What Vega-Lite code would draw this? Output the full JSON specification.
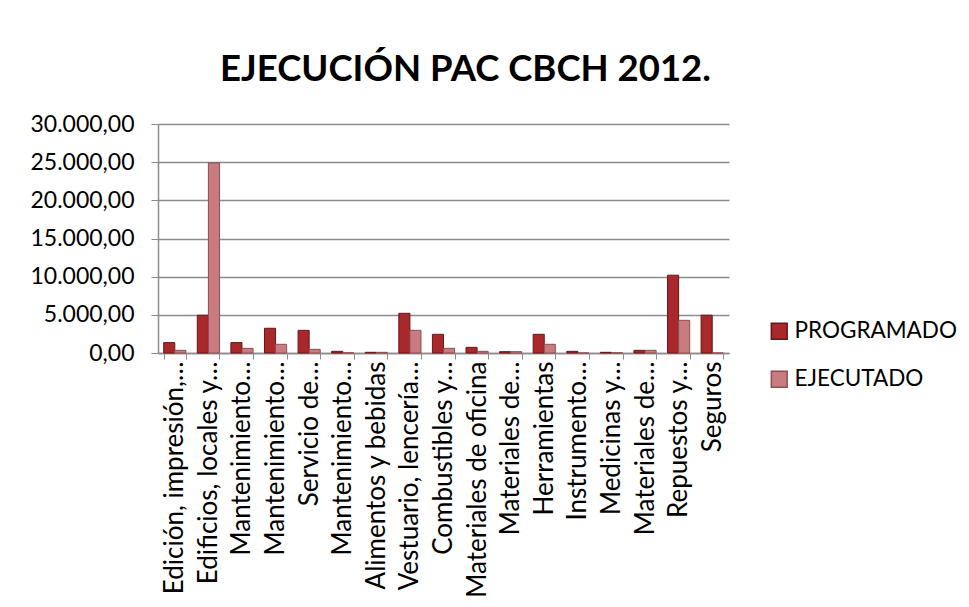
{
  "$schema": "https://vega.github.io/schema/vega-lite/v6.json",
  "autosize": {"type": "none"},
  "width": 571,
  "height": 229,
  "padding": {"left": 158, "top": 124, "right": 240, "bottom": 254},
  "background": "white",
  "config": {
    "locale": {"number": {"decimal": ",", "thousands": ".", "grouping": [3], "currency": ["$", ""]}},
    "font": "Lato",
    "view": {"stroke": null}
  },
  "title": {
    "text": "EJECUCIÓN PAC CBCH 2012.",
    "font": "Lato",
    "fontSize": 36.5,
    "fontWeight": "bold",
    "color": "#000000",
    "anchor": "middle",
    "dx": 22,
    "offset": 25
  },
  "data": {
    "values": [
      {"cat": "01|Edición, impresión,…", "serie": "PROGRAMADO", "valor": 1360},
      {"cat": "01|Edición, impresión,…", "serie": "EJECUTADO", "valor": 350},
      {"cat": "02|Edificios, locales y…", "serie": "PROGRAMADO", "valor": 4950},
      {"cat": "02|Edificios, locales y…", "serie": "EJECUTADO", "valor": 24900},
      {"cat": "03|Mantenimiento…", "serie": "PROGRAMADO", "valor": 1360},
      {"cat": "03|Mantenimiento…", "serie": "EJECUTADO", "valor": 610},
      {"cat": "04|Mantenimiento…", "serie": "PROGRAMADO", "valor": 3240},
      {"cat": "04|Mantenimiento…", "serie": "EJECUTADO", "valor": 1140},
      {"cat": "05|Servicio de…", "serie": "PROGRAMADO", "valor": 2970},
      {"cat": "05|Servicio de…", "serie": "EJECUTADO", "valor": 480},
      {"cat": "06|Mantenimiento…", "serie": "PROGRAMADO", "valor": 220},
      {"cat": "06|Mantenimiento…", "serie": "EJECUTADO", "valor": 20},
      {"cat": "07|Alimentos y bebidas", "serie": "PROGRAMADO", "valor": 90},
      {"cat": "07|Alimentos y bebidas", "serie": "EJECUTADO", "valor": 90},
      {"cat": "08|Vestuario, lencería…", "serie": "PROGRAMADO", "valor": 5200},
      {"cat": "08|Vestuario, lencería…", "serie": "EJECUTADO", "valor": 2970},
      {"cat": "09|Combustibles y…", "serie": "PROGRAMADO", "valor": 2450},
      {"cat": "09|Combustibles y…", "serie": "EJECUTADO", "valor": 610},
      {"cat": "10|Materiales de oficina", "serie": "PROGRAMADO", "valor": 740},
      {"cat": "10|Materiales de oficina", "serie": "EJECUTADO", "valor": 220},
      {"cat": "11|Materiales de…", "serie": "PROGRAMADO", "valor": 175},
      {"cat": "11|Materiales de…", "serie": "EJECUTADO", "valor": 175},
      {"cat": "12|Herramientas", "serie": "PROGRAMADO", "valor": 2450},
      {"cat": "12|Herramientas", "serie": "EJECUTADO", "valor": 1140},
      {"cat": "13|Instrumento…", "serie": "PROGRAMADO", "valor": 220},
      {"cat": "13|Instrumento…", "serie": "EJECUTADO", "valor": 0},
      {"cat": "14|Medicinas y…", "serie": "PROGRAMADO", "valor": 90},
      {"cat": "14|Medicinas y…", "serie": "EJECUTADO", "valor": 30},
      {"cat": "15|Materiales de…", "serie": "PROGRAMADO", "valor": 350},
      {"cat": "15|Materiales de…", "serie": "EJECUTADO", "valor": 350},
      {"cat": "16|Repuestos y…", "serie": "PROGRAMADO", "valor": 10190},
      {"cat": "16|Repuestos y…", "serie": "EJECUTADO", "valor": 4280},
      {"cat": "17|Seguros", "serie": "PROGRAMADO", "valor": 4950},
      {"cat": "17|Seguros", "serie": "EJECUTADO", "valor": 0},
      {"cat": "18|", "serie": "PROGRAMADO", "valor": null},
      {"cat": "18|", "serie": "EJECUTADO", "valor": null}
    ]
  },
  "mark": {"type": "bar", "strokeWidth": 1},
  "encoding": {
    "x": {
      "field": "cat",
      "type": "nominal",
      "sort": null,
      "scale": {"paddingInner": 0.34, "paddingOuter": 0.17},
      "axis": {
        "title": null,
        "labelExpr": "split(datum.value, '|')[1]",
        "labelAngle": -90,
        "labelFontSize": 26,
        "labelColor": "#000000",
        "labelFont": "Lato",
        "labelPadding": 2,
        "labelLimit": 300,
        "tickBand": "extent",
        "tickSize": 6,
        "tickColor": "#8c8c8c",
        "domainColor": "#8c8c8c",
        "domainWidth": 1.5,
        "grid": false
      }
    },
    "xOffset": {"field": "serie", "type": "nominal", "sort": ["PROGRAMADO", "EJECUTADO"], "scale": {"paddingInner": 0}},
    "y": {
      "field": "valor",
      "type": "quantitative",
      "scale": {"domain": [0, 30000], "nice": false},
      "axis": {
        "title": null,
        "values": [0, 5000, 10000, 15000, 20000, 25000, 30000],
        "format": ",.2f",
        "labelFontSize": 23,
        "labelColor": "#000000",
        "labelFont": "Lato",
        "labelPadding": 17,
        "tickSize": 7,
        "tickColor": "#8c8c8c",
        "domainColor": "#8c8c8c",
        "domainWidth": 1.5,
        "gridColor": "#8c8c8c",
        "gridWidth": 1.5
      }
    },
    "color": {
      "field": "serie",
      "type": "nominal",
      "sort": ["PROGRAMADO", "EJECUTADO"],
      "scale": {"domain": ["PROGRAMADO", "EJECUTADO"], "range": ["#a8282c", "#c97c80"]},
      "legend": {
        "title": null,
        "orient": "none",
        "legendX": 610,
        "legendY": 196,
        "symbolType": "square",
        "symbolSize": 250,
        "labelFontSize": 22.5,
        "labelFont": "Lato",
        "labelColor": "#000000",
        "labelLimit": 400,
        "rowPadding": 25,
        "labelOffset": 4
      }
    },
    "stroke": {
      "field": "serie",
      "type": "nominal",
      "scale": {"domain": ["PROGRAMADO", "EJECUTADO"], "range": ["#6b1417", "#8f4d51"]},
      "legend": null
    }
  }
}
